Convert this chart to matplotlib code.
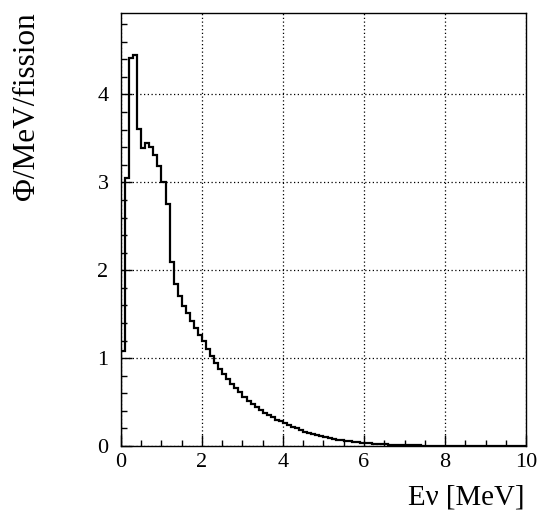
import numpy as np
import matplotlib
matplotlib.use("Agg")
import matplotlib.pyplot as plt
from matplotlib.ticker import MultipleLocator

plt.rcParams['font.family'] = ['Liberation Serif', 'DejaVu Serif']

# Reactor antineutrino flux spectrum, 0.1 MeV bins from 0 to 10 MeV
bin_width = 0.1
flux = [
    1.08, 3.05, 4.42, 4.45, 3.61, 3.39, 3.45, 3.40, 3.31, 3.19,
    3.00, 2.75, 2.09, 1.84, 1.71, 1.59, 1.51, 1.42, 1.34, 1.26,
    1.19, 1.10, 1.03, 0.95, 0.875, 0.82, 0.76, 0.71, 0.66, 0.61,
    0.56, 0.51, 0.48, 0.44, 0.41, 0.38, 0.35, 0.33, 0.30, 0.28,
    0.26, 0.24, 0.22, 0.20, 0.18, 0.165, 0.15, 0.135, 0.12, 0.11,
    0.10, 0.09, 0.08, 0.072, 0.065, 0.058, 0.052, 0.046, 0.041, 0.037,
    0.033, 0.029, 0.026, 0.023, 0.020, 0.018, 0.016, 0.014, 0.012, 0.011,
    0.009, 0.008, 0.007, 0.006, 0.005, 0.004, 0.003, 0.002, 0.0015, 0.001,
    0, 0, 0, 0, 0, 0, 0, 0, 0, 0,
    0, 0, 0, 0, 0, 0, 0, 0, 0, 0,
]
edges = np.arange(len(flux) + 1) * bin_width

x_label = "Eν [MeV]"
y_label = "Φ/MeV/fission"

fig = plt.figure(figsize=(5.38, 5.17), dpi=100)
ax = fig.add_axes([0.2249, 0.1373, 0.7528, 0.838])

ax.stairs(flux, edges, color="black", linewidth=1.6, baseline=0)

ax.set_xlim(0, 10)
ax.set_ylim(0, 4.93)

ax.xaxis.set_major_locator(MultipleLocator(2))
ax.xaxis.set_minor_locator(MultipleLocator(0.5))
ax.yaxis.set_major_locator(MultipleLocator(1))
ax.yaxis.set_minor_locator(MultipleLocator(0.2))

ax.tick_params(which="both", direction="in", color="black", width=1)
ax.tick_params(which="major", length=8, labelsize=16)
ax.tick_params(which="minor", length=4)
ax.tick_params(axis="x", pad=5)
ax.tick_params(axis="y", pad=9)

ax.grid(True, which="major", linestyle=(0, (1, 2)), color="black", linewidth=0.9)

for s in ax.spines.values():
    s.set_linewidth(1.0)
    s.set_color("black")

fig.text(0.975, 0.038, x_label, ha="right", va="center", fontsize=20.8)
fig.text(0.050, 0.977, y_label, ha="center", va="top", rotation=90, fontsize=22.5)

fig.savefig("out.png", dpi=100)
